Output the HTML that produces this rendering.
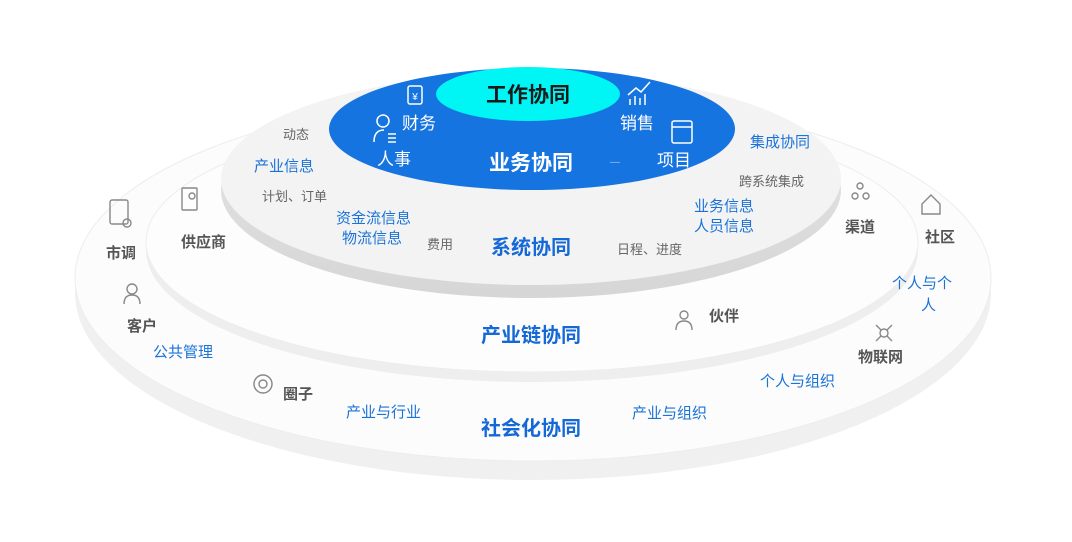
<!DOCTYPE html>
<html><head><meta charset="utf-8"><style>
body{margin:0;background:#fff;}
svg{display:block;font-family:"Liberation Sans","Noto Sans CJK SC",sans-serif;}
.g{fill:#666;font-size:13px}
.gb{fill:#555;font-size:15px;font-weight:bold}
.b{fill:#1a73d9;font-size:15px}
.bb{fill:#1469d6;font-size:20px;font-weight:bold}
.w{fill:#fff;font-size:17px}
.ic{fill:none;stroke:#888;stroke-width:1.4}
.icw{fill:none;stroke:#fff;stroke-width:1.5}
</style></head><body>
<svg width="1072" height="542" viewBox="0 0 1072 542">
<defs>
<linearGradient id="rim" x1="0" y1="0" x2="0" y2="1"><stop offset="0" stop-color="#e6e6e6"/><stop offset="1" stop-color="#d6d6d6"/></linearGradient>
</defs>
<ellipse cx="533" cy="293" rx="458" ry="187" fill="#f0f0f0"/>
<ellipse cx="533" cy="278" rx="458" ry="183" fill="#fcfcfc" stroke="#ededed"/>
<ellipse cx="532" cy="250" rx="386" ry="132" fill="#eeeeee"/>
<ellipse cx="532" cy="242" rx="386" ry="130" fill="#fdfdfd" stroke="#ededed"/>
<ellipse cx="531" cy="190" rx="310" ry="108" fill="url(#rim)"/>
<ellipse cx="531" cy="179" rx="310" ry="106" fill="#f3f3f3"/>
<ellipse cx="532" cy="129" rx="203" ry="61" fill="#1674e0"/>
<ellipse cx="528" cy="94" rx="92" ry="27" fill="#00f5f5"/>
<text x="528" y="102" text-anchor="middle" style="font-size:21px;font-weight:bold;fill:#1a1a1a">工作协同</text>
<text x="531" y="170" text-anchor="middle" style="font-size:21px;font-weight:bold;fill:#fff">业务协同</text>
<text x="402" y="129" class="w">财务</text>
<text x="377" y="165" class="w">人事</text>
<text x="620" y="129" class="w">销售</text>
<text x="657" y="166" class="w">项目</text>
<text x="610" y="165" style="fill:#9cc3f0;font-size:10px">—</text>
<rect x="408" y="86" width="14" height="18" rx="2" class="icw"/><text x="415" y="100" text-anchor="middle" style="fill:#fff;font-size:10px">¥</text>
<circle cx="383" cy="121" r="6" class="icw"/><path d="M374 142 q0 -12 10 -12 M388 134h8M388 138h8M388 142h8" class="icw"/>
<path d="M630 105v-6M635 105v-9M640 105v-7M645 105v-11M628 95l8-7 5 4 9-10" class="icw"/>
<rect x="672" y="121" width="20" height="22" rx="2" class="icw"/><path d="M672 127h20" class="icw"/>
<text x="283" y="139" class="g">动态</text>
<text x="254" y="171" class="b">产业信息</text>
<text x="262" y="201" class="g">计划、订单</text>
<text x="336" y="223" class="b">资金流信息</text>
<text x="342" y="243" class="b">物流信息</text>
<text x="427" y="249" class="g">费用</text>
<text x="531" y="254" text-anchor="middle" class="bb">系统协同</text>
<text x="617" y="254" class="g">日程、进度</text>
<text x="694" y="211" class="b">业务信息</text>
<text x="694" y="231" class="b">人员信息</text>
<text x="739" y="186" class="g">跨系统集成</text>
<text x="750" y="147" class="b">集成协同</text>
<text x="531" y="342" text-anchor="middle" class="bb">产业链协同</text>
<text x="181" y="247" class="gb">供应商</text>
<rect x="182" y="188" width="15" height="22" rx="1" class="ic"/><circle cx="192" cy="196" r="3" class="ic"/>
<text x="709" y="321" class="gb">伙伴</text>
<circle cx="684" cy="315" r="4" class="ic"/><path d="M676 330q0-9 8-9t8 9" class="ic"/>
<text x="845" y="232" class="gb">渠道</text>
<circle cx="860" cy="186" r="3" class="ic"/><circle cx="855" cy="196" r="3" class="ic"/><circle cx="866" cy="196" r="3" class="ic"/>
<text x="153" y="357" class="b">公共管理</text>
<text x="531" y="435" text-anchor="middle" class="bb">社会化协同</text>
<text x="106" y="258" class="gb">市调</text>
<rect x="110" y="200" width="18" height="24" rx="2" class="ic"/><circle cx="127" cy="223" r="4" class="ic"/>
<text x="127" y="331" class="gb">客户</text>
<circle cx="132" cy="289" r="5" class="ic"/><path d="M124 304q0-9 8-9t8 9" class="ic"/>
<text x="283" y="399" class="gb">圈子</text>
<circle cx="263" cy="384" r="9" class="ic"/><circle cx="263" cy="384" r="4" class="ic"/>
<text x="346" y="417" class="b">产业与行业</text>
<text x="632" y="418" class="b">产业与组织</text>
<text x="760" y="386" class="b">个人与组织</text>
<text x="858" y="362" class="gb">物联网</text>
<circle cx="884" cy="333" r="4" class="ic"/><path d="M876 325l5 5M892 325l-5 5M876 341l5-5M892 341l-5-5" class="ic"/>
<text x="892" y="288" class="b">个人与个</text>
<text x="921" y="310" class="b">人</text>
<text x="925" y="242" class="gb">社区</text>
<path d="M922 214v-10l9-9 9 9v10z" class="ic"/>
</svg>
</body></html>
